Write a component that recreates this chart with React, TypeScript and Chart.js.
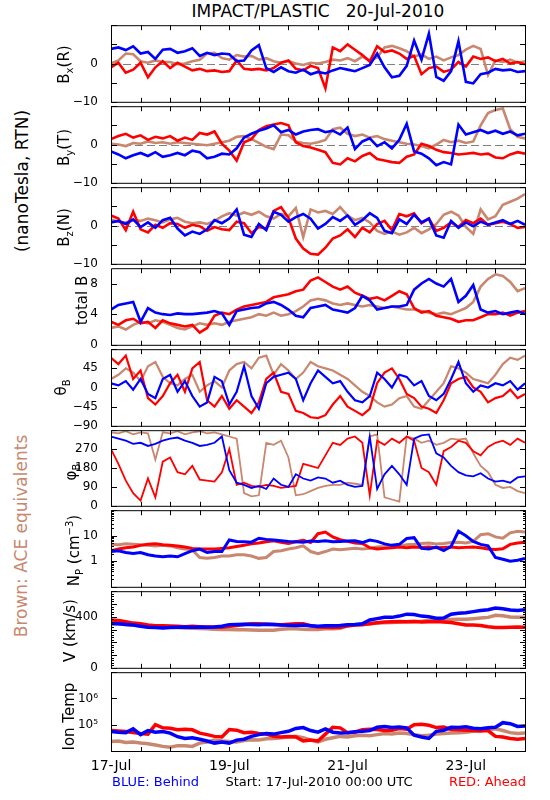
import React, { useEffect, useRef } from 'react';
import { Chart, registerables } from 'chart.js';

Chart.register(...registerables);

const FONT = "'DejaVu Sans', sans-serif";
Chart.defaults.font.family = FONT;

// ---------------- data (hours since 17-Jul-2010 00:00 UTC) ----------------
const HOURS = [
  0, 3, 6, 9, 12, 15, 18, 21,
  24, 27, 30, 33, 36, 39, 42, 45,
  48, 51, 54, 57, 60, 63, 66, 69,
  72, 75, 78, 81, 84, 87, 90, 93,
  96, 99, 102, 105, 108, 111, 114, 117,
  120, 123, 126, 129, 132, 135, 138, 141,
  144, 147, 150, 153, 156, 159, 162, 165,
  168,
];

const BX_BLUE = [
  3.8, 4.2, 3.5, 4.5, 2.6, 3.0, 1.2, 3.6,
  3.8, 2.8, 3.2, 4.0, 2.0, 2.8, 2.2, 2.6,
  2.4, 0.6, 0.8, 3.4, 4.8, -1.2, -2.2, -1.0,
  -2.0, -2.4, -1.6, -2.8, -2.2, -2.6, -1.8, -1.2,
  -1.6, -2.0, -1.2, -0.4, 2.6, -1.0, -3.6, -3.2,
  -0.6, 6.0, 1.0, 7.8, -3.5, -4.5, -2.0, 5.8,
  -4.8, -5.2, -2.8, -2.4, -1.4, -1.8, -1.6, -2.2,
  -2.0,
];
const BX_RED = [
  -1.0, 0.2, -2.4, -1.6, 0.2, -3.6, -1.0, 0.6,
  -1.2, 0.2, -0.8, -1.8, -1.4, -2.0, -1.8, -2.2,
  -2.0, 0.8, -1.4, -1.6, -1.4, -1.8, -1.2, 0.2,
  0.8, -1.4, -1.8, -0.6, -1.2, -6.5, 4.2, 3.2,
  5.0, 3.6, 2.2, 0.5, 4.5, 3.0, 3.4, 2.6,
  1.2, 2.0, -2.8, -1.2, -0.8, -2.2, -1.6, 0.4,
  -0.8, 1.8, 1.2, 1.6, 0.6, 1.2, 0.0, 0.4,
  -0.2,
];
const BX_BROWN = [
  0.0, 0.8, 2.6, 2.4, 0.6, 0.2, 0.8, 0.4,
  0.4, -0.2, 0.0, 0.6, 1.0, 2.6, 2.8, 1.4,
  1.0, 2.2, 1.8, 2.0, 1.0, 1.4, 0.6, 0.2,
  0.6, 0.0, -0.4, 0.2, 0.0, 0.4, 1.0, 0.8,
  1.4, 0.6, 1.8, 0.8, 1.6, 4.2, 4.6, 4.0,
  3.2, 1.8, 2.4, 1.2, 1.8, 0.8, 1.6, 2.2,
  3.6, 4.6, 3.8, -3.0, 0.8, 0.4, 1.0, 0.2,
  0.6,
];

const BY_BLUE = [
  -1.8, -2.6, -3.6, -2.8, -2.2, -3.0, -2.0, -3.2,
  -2.8, -2.2, -2.8, -1.6, -2.0, -3.6, -3.2, -2.4,
  -2.6, -1.0, 1.8, 2.8, 3.6, 4.2, 5.0, 3.2,
  3.8, 2.6, 3.4, 3.8, 4.0, 3.2, 3.6, 2.6,
  4.4, -1.2, 0.8, 1.6, -0.4, 0.6, -1.0, 1.2,
  5.4, -1.8, -2.4, -3.6, -5.4, -4.6, -5.2, 5.2,
  2.6, 3.2, 3.8, 3.0, 3.6, 2.8, 3.4, 2.4,
  2.8,
];
const BY_RED = [
  1.4, 2.2, 2.8, 1.8, 2.4, 1.2, 2.0, 1.6,
  2.2, 1.0, 1.8, 1.2, 3.0, 2.6, 3.4, 0.2,
  -1.6, -4.2, 0.6, 1.4, 3.8, 4.8, 5.2, 5.6,
  5.0, 0.6, -0.4, -0.8, -1.4, -2.0, -4.8, -5.2,
  -3.6, -4.4, -3.0, -2.2, -3.8, -4.2, -4.6, -4.8,
  -3.2, -2.6, 0.2, -0.4, -1.4, -2.0, -2.2, -2.6,
  -2.4, -2.2, -2.6, -2.4, -3.4, -3.6, -2.6, -2.0,
  -2.4,
];
const BY_BROWN = [
  0.2, 0.0, -0.4, 0.4, 0.2, 0.8, 0.4, 0.6,
  0.2, 0.6, 0.4, 0.2, 0.0, -0.2, 0.2, 0.6,
  1.0, 2.0, 2.2, 1.4, 0.4, -0.6, -1.2, 2.6,
  2.4, 0.8, 0.4, 0.2, 0.6, 1.2, 4.0, 4.4,
  2.8, 2.2, 2.6, 1.8, 2.2, 1.4, 1.0, 0.6,
  0.2, 0.0, -0.4, -1.0, 0.0, 1.2, 0.6, 1.0,
  0.4, 0.8, 5.0, 8.2, 9.0, 9.4, 4.0, 2.0,
  1.6,
];

const BZ_BLUE = [
  0.8, 1.2, 0.4, 1.6, -0.4, 0.8, -0.6, 1.4,
  2.0, -0.8, -2.6, -1.6, -2.2, -1.0, 1.4, 0.6,
  1.8, 4.2, -2.4, -3.0, 0.4, -1.2, 3.6, 2.8,
  1.0, 2.2, 3.0, 1.8, -0.8, 0.4, 2.2, 1.2,
  2.6, 0.2, 1.4, 3.2, 2.0, -1.4, -2.0, 1.6,
  0.4, 2.8, 0.8, 1.8, -2.6, -3.2, 1.2, -0.6,
  0.8, -0.2, 1.0, 0.2, 0.8, 1.4, 0.4, 1.2,
  0.2,
];
const BZ_RED = [
  2.6, 1.8, -1.2, 3.6, -1.0, -1.8, 0.2, -0.6,
  0.6, 0.4, -0.6, 0.2, -0.2, -1.4, -0.4, -1.0,
  -1.2, 1.0, 0.6, -2.0, -0.4, -0.8, 3.8, 4.8,
  2.0, -3.4, -6.0, -7.4, -7.6, -5.8, -3.4, -2.6,
  -1.0, -3.0, -0.6, -1.8, 0.4, 1.2, -1.2, 3.0,
  2.4, 3.2, 0.6, 1.8, -1.4, -0.6, 0.8, -0.4,
  1.4, 0.6, 1.8, 0.2, 0.6, 1.0, 0.4, -0.6,
  -0.4,
];
const BZ_BROWN = [
  1.6, 1.0, 0.8, 1.4, 1.2, 1.8, 1.4, 0.8,
  1.6, 2.0, 1.0, 0.6, 0.8, 0.4, 1.2, 2.4,
  3.2, 2.6, 3.4, 2.8, 3.6, 2.4, 1.8, 3.0,
  2.4, 4.6, -3.0, 4.2, 3.4, 3.8, 3.0, 4.8,
  2.6, 1.4, 2.0, 0.8, -1.4, -2.2, -1.6, -2.4,
  -1.8, -0.6, -2.0, -1.0, 0.4, 2.8, 3.6, 2.6,
  -0.4, -2.2, 4.2, 1.6, 2.4, 5.4, 6.2, 7.0,
  8.2,
];

const TB_BLUE = [
  4.6, 5.2, 5.4, 5.6, 3.0, 4.8, 4.2, 4.0,
  3.9, 4.1, 4.0, 4.0, 4.1, 4.2, 4.4, 4.1,
  2.6, 4.4, 4.6, 4.8, 4.9, 5.4, 5.6, 5.2,
  4.6, 3.8, 3.6, 4.8, 5.0, 5.2, 4.6, 4.4,
  4.2, 4.8, 6.4, 5.8, 4.6, 4.8, 5.0, 5.0,
  5.2, 7.2, 8.0, 8.6, 8.0, 7.6, 8.6, 5.6,
  6.4, 7.8, 4.6, 4.2, 4.4, 4.0, 4.2, 4.4,
  4.0,
];
const TB_RED = [
  3.0, 2.6, 3.2, 3.4, 2.8, 3.0, 2.2, 3.2,
  2.8, 2.6, 2.4, 2.6, 1.6, 2.2, 3.8, 4.2,
  4.0, 4.6, 5.0, 5.2, 5.4, 5.6, 6.2, 6.4,
  6.6, 7.0, 7.2, 8.4, 8.8, 8.2, 7.6, 7.2,
  7.6, 6.8, 6.4, 6.0, 6.2, 5.8, 6.4, 7.0,
  6.6, 4.8, 4.2, 4.4, 3.8, 3.6, 3.4, 3.0,
  3.2, 3.2, 3.6, 4.0, 4.0, 4.2, 3.8, 4.2,
  4.4,
];
const TB_BROWN = [
  2.2, 2.4, 2.0, 2.6, 3.0, 2.8, 3.2, 3.0,
  2.6, 2.2, 2.0, 2.4, 2.8, 2.6, 2.8, 2.6,
  3.0, 3.2, 3.4, 3.6, 4.0, 3.8, 4.2, 3.8,
  4.0, 4.4, 5.0, 5.8, 6.0, 5.8, 5.4, 5.2,
  5.4, 5.2, 5.0, 5.2, 5.0, 4.8, 5.0, 4.8,
  4.6, 4.6, 4.4, 4.2, 4.0, 4.2, 4.0, 4.4,
  4.8, 5.6, 7.6, 8.6, 9.2, 9.0, 8.2, 7.0,
  7.4,
];

const TH_BLUE = [
  10, 5, 15, -5, 20, -15, -25, 20,
  30, -10, 15, -20, -45, -35, 25, 15,
  -40, -10, 50, -20, -50, 10, 25, 30,
  35, 20, -30, 10, 40, 25, 10, 15,
  -10, -30, -35, -20, 35, 20, 0, 30,
  25, 5, 15, -20, -30, -15, 20, 60,
  10, -10, 5, 0, 10, 5, 15, -5,
  10,
];
const TH_RED = [
  70, 55, 75, 20, 40, -25, -40, -20,
  10, 30, -10, 45, 60, -30, -45, -20,
  -50, -30, -45, -60, -35, 20, 35, -10,
  -15, -55, -60, -70, -72, -65, -40, -20,
  -45, -55, -65, -50, 10, 35, 45, 20,
  -15, -25, -45, -50, -60, -30, 10, 20,
  25, 0, -10, -35, -25, -20, -5, -25,
  -15,
];
const TH_BROWN = [
  20, 30, 45, 35, 15, 50, 60, 25,
  10, 5, 20, 30, -10, 5, 15, 0,
  40, 55, 60, 45, 70, 75, 30, 55,
  40, 20, 35, 60, 50, 45, 40, 30,
  20, 5, -10, -20, -35, -45, -40, -25,
  -20, -45, -50, -30, -10, 10, 50, 45,
  35, 20, 15, 10, 30, 55, 70, 65,
  75,
];

const PH_BLUE = [
  330, 320, 310, 295, 300, 285, 295, 310,
  320, 325, 310, 300, 285, 290, 300, 330,
  170, 110, 100, 85, 95, 80, 130, 100,
  90, 150, 130, 120, 135, 130, 110, 120,
  100, 90, 95, 330, 80, 150, 190, 150,
  100, 320, 335, 340, 250, 230, 190, 160,
  145, 140, 155, 130, 115, 120, 110, 135,
  140,
];
const PH_RED = [
  270, 200, 120, 60, 25, 130, 40, 210,
  230, 160, 150, 190, 125, 120, 115, 160,
  270, 100, 110, 95, 90, 100, 95, 85,
  90, 95, 200, 190, 180, 240, 300, 290,
  320, 330, 300, 50, 310, 290, 320, 300,
  330, 310, 180, 160, 100, 260, 280, 310,
  300, 260, 240, 280, 300, 310, 290, 320,
  300,
];
const PH_BROWN = [
  350, 345, 355, 340, 350, 345, 220, 350,
  345, 355, 340, 350, 355, 345, 350, 340,
  330, 320, 60, 45, 50, 300, 290, 310,
  230, 50, 55, 70, 85, 95, 100, 100,
  110, 105, 100, 330, 340, 40, 30, 20,
  330, 320, 300, 310, 290, 300, 320, 315,
  320, 250, 190, 160, 100, 85, 90, 70,
  60,
];

const NP_BLUE = [
  2.4, 2.6, 2.2, 2.0, 2.2, 1.8, 1.6, 1.5,
  1.6, 1.5, 2.0, 2.6, 3.0, 2.2, 2.4, 2.4,
  6.8, 6.0, 5.8, 5.6, 8.0, 7.2, 6.8, 6.4,
  6.0, 5.8, 5.6, 6.2, 6.0, 6.4, 5.8, 6.0,
  6.2, 6.4, 5.4, 6.8, 6.0, 4.8, 4.2, 4.6,
  7.8, 8.4, 3.2, 3.0, 3.6, 2.6, 3.8, 15,
  10, 6.0, 4.6, 4.0, 1.4, 1.2, 1.0, 1.1,
  1.3,
];
const NP_RED = [
  2.6, 3.0, 3.4, 3.6, 4.2, 4.6, 4.8, 4.4,
  4.2, 4.0, 3.6, 3.2, 3.0, 3.0, 3.0, 3.2,
  3.4, 3.8, 4.2, 4.8, 5.2, 5.8, 6.4, 5.6,
  5.0, 5.8, 6.6, 5.4, 12, 14, 9, 7,
  6, 5.2, 5.0, 3.4, 3.0, 3.2, 3.4, 3.6,
  3.4, 3.6, 3.5, 3.6, 3.4, 3.5, 3.6, 3.4,
  3.5, 3.6, 3.4, 3.0, 2.9, 3.1, 4.6, 5.2,
  5.6,
];
const NP_BROWN = [
  4.6, 4.4, 4.8, 4.6, 4.4, 4.2, 4.0, 4.2,
  4.0, 3.4, 3.0, 2.8, 1.4, 1.3, 1.4, 1.6,
  1.6, 1.8, 1.8, 1.6, 1.3, 1.4, 2.4, 2.6,
  3.0, 3.4, 4.0, 2.4, 2.0, 2.4, 3.0, 2.8,
  3.0, 3.2, 3.0, 3.2, 3.6, 3.8, 4.2, 4.0,
  4.4, 4.6, 5.0, 5.2, 4.8, 5.0, 5.4, 5.6,
  5.2, 6.0, 11, 12, 9, 8, 13, 15,
  14,
];

const V_BLUE = [
  345, 345, 340, 335, 325, 318, 315, 312,
  315, 318, 320, 318, 320, 318, 320, 325,
  338, 340, 342, 340, 338, 342, 340, 336,
  334, 332, 336, 330, 325, 330, 330, 332,
  338, 340, 345, 375, 385, 395, 395, 405,
  420, 418, 405, 400, 388, 390, 420, 428,
  432, 440, 448, 455, 468, 462, 452, 448,
  455,
];
const V_RED = [
  375, 370, 360, 350, 345, 335, 330, 330,
  328, 325, 322, 325, 322, 320, 320, 318,
  325, 332, 340, 345, 345, 342, 340, 338,
  342, 345, 345, 330, 320, 318, 315, 318,
  330, 335, 340, 345, 352, 358, 360, 362,
  360, 362, 358, 360, 362, 358, 355, 345,
  335, 335, 332, 322, 315, 315, 318, 320,
  318,
];
const V_BROWN = [
  350, 345, 340, 335, 330, 328, 325, 322,
  318, 315, 312, 310, 308, 305, 302, 300,
  300, 298, 298, 296, 295, 295, 294, 302,
  305, 305, 302, 300, 300, 305, 305, 310,
  328, 335, 338, 345, 350, 352, 355, 358,
  360, 362, 365, 370, 372, 375, 378, 380,
  380, 385, 390, 395, 412, 408, 398, 395,
  395,
];

const IT_BLUE = [
  5.5e4, 5.2e4, 5.0e4, 7.0e4, 4.2e4, 6.0e4, 5.2e4, 5.5e4,
  4.8e4, 3.5e4, 3.0e4, 3.2e4, 2.8e4, 2.4e4, 2.0e4, 2.2e4,
  2.0e4, 2.6e4, 2.8e4, 3.6e4, 4.2e4, 4.6e4, 4.4e4, 5.0e4,
  5.6e4, 7.2e4, 7.8e4, 6.0e4, 5.2e4, 7.0e4, 5.2e4, 4.8e4,
  5.0e4, 5.4e4, 5.6e4, 6.0e4, 8.0e4, 8.6e4, 7.8e4, 8.2e4,
  7.6e4, 4.0e4, 3.4e4, 3.0e4, 5.6e4, 6.2e4, 8.0e4, 7.8e4,
  8.4e4, 7.4e4, 7.0e4, 7.6e4, 8.0e4, 1.2e5, 1.1e5, 8.6e4,
  9.0e4,
];
const IT_RED = [
  6.0e4, 5.8e4, 5.5e4, 5.0e4, 4.6e4, 4.4e4, 1.0e5, 7.6e4,
  7.4e4, 6.5e4, 6.8e4, 6.4e4, 4.8e4, 4.2e4, 3.6e4, 3.4e4,
  6.6e4, 6.2e4, 5.0e4, 5.2e4, 4.6e4, 4.4e4, 3.6e4, 3.4e4,
  3.6e4, 3.4e4, 2.4e4, 2.6e4, 2.4e4, 4.4e4, 8.0e4, 7.6e4,
  5.0e4, 5.2e4, 6.4e4, 6.8e4, 6.6e4, 6.0e4, 6.2e4, 7.2e4,
  6.8e4, 1.0e5, 1.05e5, 9.5e4, 7.8e4, 8.2e4, 6.6e4, 6.4e4,
  6.2e4, 6.0e4, 5.8e4, 6.0e4, 3.6e4, 3.4e4, 3.0e4, 2.8e4,
  3.0e4,
];
const IT_BROWN = [
  2.3e4, 2.4e4, 2.1e4, 2.2e4, 2.0e4, 1.9e4, 1.7e4, 1.5e4,
  1.4e4, 1.6e4, 1.6e4, 1.5e4, 2.0e4, 2.2e4, 2.6e4, 2.4e4,
  2.3e4, 2.2e4, 2.5e4, 2.7e4, 2.6e4, 2.9e4, 3.0e4, 3.2e4,
  3.4e4, 3.6e4, 3.2e4, 2.6e4, 2.2e4, 2.8e4, 3.2e4, 3.6e4,
  3.4e4, 3.8e4, 4.0e4, 3.8e4, 4.2e4, 4.6e4, 4.4e4, 4.8e4,
  4.6e4, 4.2e4, 3.8e4, 4.0e4, 4.4e4, 4.6e4, 4.8e4, 5.0e4,
  5.2e4, 5.6e4, 6.0e4, 6.6e4, 7.0e4, 6.0e4, 5.0e4, 4.6e4,
  4.8e4,
];

// axis decoration
const X_TICK_HOURS = [12, 24, 36, 48, 60, 72, 84, 96, 108, 120, 132, 144, 156];
const DATE_LABELS: Record<number, string> = { 0: '17-Jul', 48: '19-Jul', 96: '21-Jul', 144: '23-Jul' };
const LOG_MINOR_NP = [0.2, 0.3, 0.4, 0.5, 0.6, 0.7, 0.8, 0.9, 2, 3, 4, 5, 6, 7, 8, 9, 20, 30, 40, 50, 60, 70, 80, 90];
const V_MINOR = [20, 40, 60, 80, 120, 140, 160, 180, 220, 240, 260, 280, 320, 340, 360, 380, 420, 440, 460, 480, 520, 540, 560, 580];

const BLUE = '#0000FF';
const RED = '#FF0000';
const BROWN = '#C8876E';

type Part = [string, number]; // 0 normal, 1 subscript, -1 superscript

interface Panel {
  id: string;
  top: number;
  h: number;
  type: 'linear' | 'logarithmic';
  min: number;
  max: number;
  step?: number;
  major: number[];
  minor: number[];
  labels: [number, string][];
  zero: boolean;
  title: Part[];
  tx: number;
  ty: number;
  lw: number;
  blue: number[];
  red: number[];
  brown: number[];
}

const B_LABELS: [number, string][] = [[-10, '\u221210'], [0, '0']];

const PANELS: Panel[] = [
  { id: 'bx', top: 23, h: 81, type: 'linear', min: -10, max: 10, step: 5, major: [-10, -5, 0, 5, 10], minor: [], labels: B_LABELS, zero: true,
    title: [['B', 0], ['x', 1], ['(R)', 0]], tx: 65, ty: 1, lw: 2.6, blue: BX_BLUE, red: BX_RED, brown: BX_BROWN },
  { id: 'by', top: 104, h: 81, type: 'linear', min: -10, max: 10, step: 5, major: [-10, -5, 0, 5, 10], minor: [], labels: B_LABELS, zero: true,
    title: [['B', 0], ['y', 1], ['(T)', 0]], tx: 65, ty: 3, lw: 2.6, blue: BY_BLUE, red: BY_RED, brown: BY_BROWN },
  { id: 'bz', top: 185, h: 81, type: 'linear', min: -10, max: 10, step: 5, major: [-10, -5, 0, 5, 10], minor: [], labels: B_LABELS, zero: true,
    title: [['B', 0], ['z', 1], ['(N)', 0]], tx: 65, ty: 2, lw: 2.6, blue: BZ_BLUE, red: BZ_RED, brown: BZ_BROWN },
  { id: 'tb', top: 266, h: 81, type: 'linear', min: 0, max: 10, step: 2, major: [0, 4, 8], minor: [], labels: [[0, '0'], [4, '4'], [8, '8']], zero: false,
    title: [['total B', 0]], tx: 83, ty: -6, lw: 2.6, blue: TB_BLUE, red: TB_RED, brown: TB_BROWN },
  { id: 'th', top: 347, h: 81, type: 'linear', min: -90, max: 90, step: 45, major: [-90, -45, 0, 45, 90], minor: [], labels: [[-90, '\u221290'], [-45, '\u221245'], [0, '0'], [45, '45']], zero: false,
    title: [['\u03B8', 0], ['B', 1]], tx: 62, ty: 0, lw: 2.2, blue: TH_BLUE, red: TH_RED, brown: TH_BROWN },
  { id: 'ph', top: 428, h: 80, type: 'linear', min: 0, max: 360, step: 90, major: [0, 90, 180, 270, 360], minor: [], labels: [[0, '0'], [90, '90'], [180, '180'], [270, '270']], zero: false,
    title: [['\u03C6', 0], ['B', 1]], tx: 72, ty: 4, lw: 1.8, blue: PH_BLUE, red: PH_RED, brown: PH_BROWN },
  { id: 'np', top: 508, h: 81, type: 'logarithmic', min: 0.1, max: 100, major: [0.1, 1, 10, 100], minor: LOG_MINOR_NP, labels: [[1, '1'], [10, '10']], zero: false,
    title: [['N', 0], ['P', 1], [' (cm', 0], ['\u22123', -1], [')', 0]], tx: 75, ty: 2, lw: 3, blue: NP_BLUE, red: NP_RED, brown: NP_BROWN },
  { id: 'v', top: 589, h: 81, type: 'linear', min: 0, max: 600, step: 100, major: [0, 100, 200, 300, 400, 500, 600], minor: V_MINOR, labels: [[0, '0'], [400, '400']], zero: false,
    title: [['V (km/s)', 0]], tx: 71, ty: 1, lw: 3.5, blue: V_BLUE, red: V_RED, brown: V_BROWN },
  { id: 'it', top: 670, h: 81, type: 'logarithmic', min: 1e4, max: 1e7, major: [1e4, 1e5, 1e6, 1e7], minor: [], labels: [[1e5, '10\u2075'], [1e6, '10\u2076']], zero: false,
    title: [['Ion Temp', 0]], tx: 70, ty: 5, lw: 3.5, blue: IT_BLUE, red: IT_RED, brown: IT_BROWN },
];

const MARGIN = 10;
const XAXIS_H = 30;

function labelFor(p: Panel, v: number): string {
  for (const [val, txt] of p.labels) {
    if (Math.abs(val - v) <= 1e-6 * Math.max(1, Math.abs(val))) return txt;
  }
  return '';
}

function makePlugin(p: Panel) {
  return {
    id: 'panelDeco',
    beforeDatasetsDraw(chart: any) {
      if (!p.zero) return;
      const { ctx, chartArea } = chart;
      const y = Math.round(chart.scales.y.getPixelForValue(0)) + 0.5;
      ctx.save();
      ctx.strokeStyle = '#808080';
      ctx.lineWidth = 1;
      ctx.setLineDash([8, 4]);
      ctx.beginPath();
      ctx.moveTo(chartArea.left, y);
      ctx.lineTo(chartArea.right, y);
      ctx.stroke();
      ctx.restore();
    },
    afterDraw(chart: any) {
      const { ctx } = chart;
      const { left, right, top, bottom } = chart.chartArea;
      const xs = chart.scales.x;
      const ys = chart.scales.y;
      ctx.save();
      ctx.strokeStyle = '#000';
      ctx.lineWidth = 1;
      ctx.setLineDash([]);
      ctx.beginPath();
      ctx.rect(left + 0.5, top + 0.5, right - left, bottom - top);
      for (const hr of X_TICK_HOURS) {
        const x = Math.round(xs.getPixelForValue(hr)) + 0.5;
        ctx.moveTo(x, top);
        ctx.lineTo(x, top + 5);
        ctx.moveTo(x, bottom + 1);
        ctx.lineTo(x, bottom + 1 - 5);
      }
      for (const v of p.major) {
        const y = Math.round(ys.getPixelForValue(v)) + 0.5;
        ctx.moveTo(left, y);
        ctx.lineTo(left + 6, y);
        ctx.moveTo(right + 1, y);
        ctx.lineTo(right + 1 - 6, y);
      }
      for (const v of p.minor) {
        const y = Math.round(ys.getPixelForValue(v)) + 0.5;
        ctx.moveTo(left, y);
        ctx.lineTo(left + 3, y);
        ctx.moveTo(right + 1, y);
        ctx.lineTo(right + 1 - 3, y);
      }
      ctx.stroke();

      // rotated axis title with sub/superscripts
      ctx.fillStyle = '#000';
      ctx.translate(p.tx, (top + bottom) / 2 + p.ty);
      ctx.rotate(-Math.PI / 2);
      ctx.textBaseline = 'middle';
      ctx.textAlign = 'left';
      const widths: number[] = [];
      let total = 0;
      for (const [t, k] of p.title) {
        ctx.font = `${k === 0 ? 15 : 10}px ${FONT}`;
        const w = ctx.measureText(t).width;
        widths.push(w);
        total += w;
      }
      let x = -total / 2;
      p.title.forEach(([t, k], i) => {
        ctx.font = `${k === 0 ? 15 : 10}px ${FONT}`;
        ctx.fillText(t, x, k === 1 ? 5 : k === -1 ? -5 : 0);
        x += widths[i];
      });
      ctx.restore();
    },
  };
}

function makeChart(canvas: HTMLCanvasElement, p: Panel, isLast: boolean) {
  const series = (arr: number[]) => HOURS.map((h, i) => ({ x: h, y: arr[i] }));
  const ds = (arr: number[], color: string) => ({
    data: series(arr),
    borderColor: color,
    backgroundColor: color,
    borderWidth: p.lw,
    pointRadius: 0,
    tension: 0,
    clip: 0,
  });
  const yTicks: any = {
    autoSkip: false,
    padding: 5,
    color: '#000',
    font: { size: 12, family: FONT },
    callback: (v: number) => labelFor(p, v),
  };
  if (p.step) yTicks.stepSize = p.step;
  return new Chart(canvas, {
    type: 'line',
    data: { datasets: [ds(p.blue, BLUE), ds(p.red, RED), ds(p.brown, BROWN)] },
    options: {
      responsive: false,
      maintainAspectRatio: false,
      animation: false,
      devicePixelRatio: 1,
      events: [],
      layout: { padding: { left: 0, right: 25, top: MARGIN, bottom: isLast ? 0 : MARGIN } },
      plugins: { legend: { display: false }, tooltip: { enabled: false } },
      scales: {
        x: {
          type: 'linear',
          min: 0,
          max: 168,
          display: isLast,
          grid: { display: false },
          border: { display: false },
          ticks: {
            stepSize: 48,
            autoSkip: false,
            maxRotation: 0,
            padding: -1,
            color: '#000',
            font: { size: 14, family: FONT },
            callback: (v: number) => DATE_LABELS[v] ?? '',
          },
          afterFit: (s: any) => { s.height = isLast ? XAXIS_H : 0; },
        },
        y: {
          type: p.type,
          min: p.min,
          max: p.max,
          grid: { display: false },
          border: { display: false },
          ticks: yTicks,
          afterFit: (s: any) => { s.width = 111; },
        },
      },
    } as any,
    plugins: [makePlugin(p)],
  });
}

function rotStyle(cx: number, cy: number, size: number, color: string): React.CSSProperties {
  return {
    position: 'absolute',
    left: cx,
    top: cy,
    transform: 'translate(-50%, -50%) rotate(-90deg)',
    whiteSpace: 'nowrap',
    fontSize: size,
    lineHeight: '1',
    color,
  };
}

export default function App() {
  const refs = useRef<(HTMLCanvasElement | null)[]>([]);

  useEffect(() => {
    const charts = PANELS.map((p, i) => makeChart(refs.current[i] as HTMLCanvasElement, p, i === PANELS.length - 1));
    return () => charts.forEach((c) => c.destroy());
  }, []);

  return (
    <div style={{ position: 'absolute', left: 0, top: 0, width: 550, height: 800, background: '#fff', fontFamily: FONT, color: '#000', overflow: 'hidden' }}>
      <div style={{ position: 'absolute', left: 111, width: 414, top: 1, textAlign: 'center', fontSize: 17, lineHeight: '20px', whiteSpace: 'pre' }}>
        {'IMPACT/PLASTIC   20-Jul-2010'}
      </div>
      <div style={rotStyle(22, 181, 17, '#000')}>(nanoTesla, RTN)</div>
      <div style={rotStyle(21, 536, 17, BROWN)}>Brown: ACE equivalents</div>
      {PANELS.map((p, i) => {
        const last = i === PANELS.length - 1;
        const hh = p.h + MARGIN + (last ? XAXIS_H : MARGIN);
        return (
          <canvas
            key={p.id}
            ref={(el) => { refs.current[i] = el; }}
            width={550}
            height={hh}
            style={{ position: 'absolute', left: 0, top: p.top - MARGIN, width: 550, height: hh }}
          />
        );
      })}
      <div style={{ position: 'absolute', left: 112, top: 774, fontSize: 13, lineHeight: '16px', color: BLUE, whiteSpace: 'pre' }}>BLUE: Behind</div>
      <div style={{ position: 'absolute', left: 111, width: 416, top: 774, fontSize: 13, lineHeight: '16px', textAlign: 'center', whiteSpace: 'pre' }}>
        Start: 17-Jul-2010 00:00 UTC
      </div>
      <div style={{ position: 'absolute', right: 24, top: 774, fontSize: 13, lineHeight: '16px', color: RED, whiteSpace: 'pre' }}>RED: Ahead</div>
    </div>
  );
}
